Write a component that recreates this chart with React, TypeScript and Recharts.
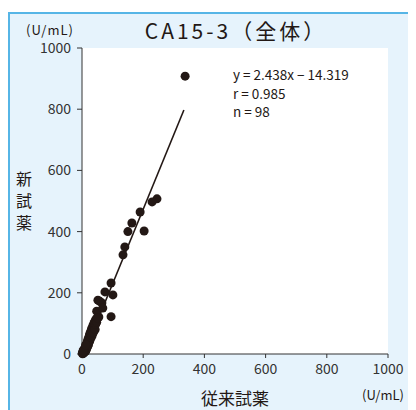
import React from 'react';
import { ScatterChart, Scatter, XAxis, YAxis, ReferenceArea } from 'recharts';

const axisTicks = [0, 200, 400, 600, 800, 1000];
const oldReagent = [
  337, 245, 229, 190, 163, 203, 150, 140, 134, 95, 75, 101, 52, 65, 58, 95, 55, 48, 68,
  2, 3, 4, 5, 5, 6, 7, 7, 8, 8, 9, 9, 10, 10, 11, 11, 12, 12, 13, 13,
  14, 14, 15, 15, 16, 16, 17, 17, 18, 18, 19, 19, 20, 20, 21, 21, 22, 22, 23, 23,
  24, 24, 25, 25, 26, 27, 27, 28, 28, 29, 30, 30, 31, 31, 32, 33, 33, 34, 35, 35,
  36, 37, 38, 38, 39, 40, 41, 42, 43, 44, 45, 46, 48, 50, 3, 6, 1, 4, 12,
];
const newReagent = [
  908, 507, 497, 464, 428, 402, 400, 350, 324, 232, 203, 193, 176, 167, 172, 122, 121, 140, 150,
  1, 4, 2, 6, 9, 4, 8, 12, 10, 15, 7, 13, 18, 12, 20, 15, 9, 22, 17, 26,
  20, 30, 24, 16, 33, 28, 22, 36, 30, 40, 26, 44, 35, 48, 30, 40, 52, 45, 38, 56,
  48, 60, 42, 64, 55, 68, 50, 72, 58, 62, 76, 54, 80, 66, 70, 85, 60, 74, 90, 68,
  78, 95, 84, 72, 100, 88, 105, 94, 80, 110, 98, 115, 104, 118, 8, 14, 3, 11, 30,
];
const slope = 2.438;
const intercept = -14.319;
const lineXRange = [5.873, 333];

const points = oldReagent.map((x, i) => ({ x, y: newReagent[i] }));
const regression = lineXRange.map((x) => ({ x, y: slope * x + intercept }));

const font = '"Noto Sans CJK JP", "Noto Sans", sans-serif';
const ink = '#231815';

const Dot = (props: any) => <circle cx={props.cx} cy={props.cy} r={4.5} fill={ink} />;
const NoDot = () => <g />;

const txt = (left: number, top: number, content: React.ReactNode, size: number, extra: React.CSSProperties = {}) => (
  <div
    style={{
      position: 'absolute',
      left,
      top,
      transform: 'translate(-50%, -50%)',
      fontFamily: font,
      fontSize: size,
      color: ink,
      whiteSpace: 'nowrap',
      lineHeight: 1,
      ...extra,
    }}
  >
    {content}
  </div>
);

export default function App() {
  return (
    <div style={{ paddingTop: 4 }}>
      <div
        style={{
          position: 'relative',
          width: 408,
          height: 398,
          boxSizing: 'border-box',
          background: '#e6f3fc',
          borderLeft: '2px solid #56b5e6',
          borderTop: '2px solid #56b5e6',
        }}
      >
        <div style={{ position: 'absolute', left: -2, top: -2, width: 408, height: 398 }}>
          <ScatterChart width={408} height={398} margin={{ top: 36, right: 28, left: 0, bottom: 0 }}>
            <XAxis
              type="number"
              dataKey="x"
              domain={[0, 1000]}
              ticks={axisTicks}
              height={56}
              stroke="#333"
              tickSize={4}
              tickMargin={6}
              tick={{ fontSize: 14, fill: '#333', fontFamily: font }}
            />
            <YAxis
              type="number"
              dataKey="y"
              domain={[0, 1000]}
              ticks={axisTicks}
              width={74}
              stroke="#333"
              tickSize={5}
              tickMargin={6}
              tick={{ fontSize: 14, fill: '#333', fontFamily: font }}
            />
            <ReferenceArea x1={0} x2={1000} y1={0} y2={1000} fill="#ffffff" fillOpacity={1} stroke="none" />
            <Scatter
              data={regression}
              line={{ stroke: ink, strokeWidth: 1.6 }}
              shape={NoDot}
              isAnimationActive={false}
            />
            <Scatter data={points} fill={ink} shape={Dot} isAnimationActive={false} />
          </ScatterChart>
          {txt(42, 17, '(U/mL)', 13, { letterSpacing: 1 })}
          {txt(228, 18, 'CA15-3（全体）', 21, { letterSpacing: 3 })}
          <div
            style={{
              position: 'absolute',
              left: 225,
              top: 53,
              fontFamily: font,
              fontSize: 13.5,
              color: ink,
              lineHeight: '18.5px',
              whiteSpace: 'nowrap',
            }}
          >
            <div>y = 2.438x − 14.319</div>
            <div>r = 0.985</div>
            <div>n = 98</div>
          </div>
          {txt(16, 188, <div style={{ lineHeight: '22px' }}>新<br />試<br />薬</div>, 16)}
          {txt(227, 385, '従来試薬', 17)}
          {txt(375, 382, '(U/mL)', 13)}
        </div>
      </div>
    </div>
  );
}
